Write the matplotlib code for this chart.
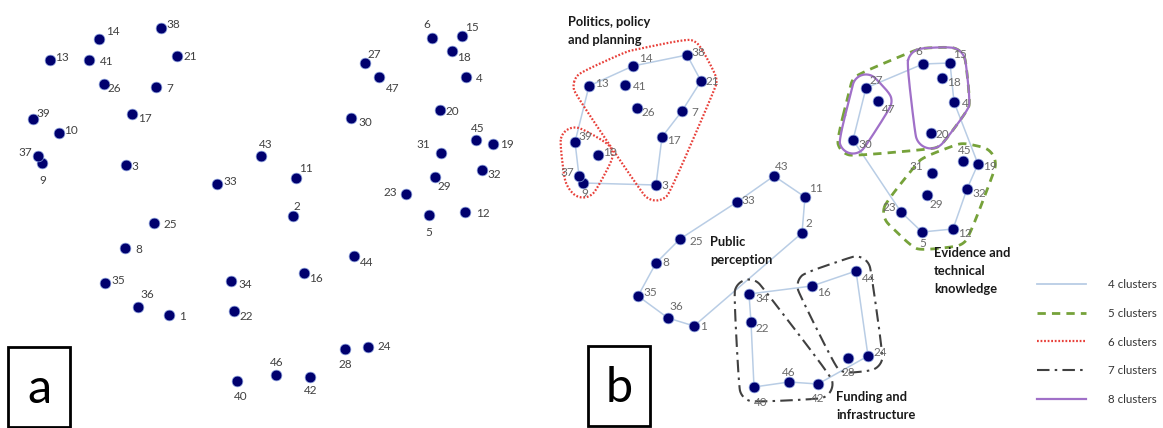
import numpy as np
import matplotlib
matplotlib.use('Agg')
import matplotlib.pyplot as plt
from matplotlib.lines import Line2D
from matplotlib.patches import Rectangle

# node ids 1..47, positions (pixel units, y down)
node_ids = list(range(1, 48))
a_x = [169, 293, 126, 466, 429, 432, 156, 125, 42, 59, 296, 465, 50, 99, 462, 304,
       132, 452, 493, 440, 177, 234, 406, 368, 154, 104, 365, 345, 435, 351, 441, 482,
       217, 231, 105, 138, 38, 161, 33, 237, 89, 310, 261, 354, 476, 276, 379]
a_y = [315, 216, 165, 77, 215, 38, 87, 248, 163, 133, 178, 212, 60, 39, 36, 273,
       114, 51, 144, 110, 56, 311, 194, 347, 223, 84, 63, 349, 177, 118, 153, 170,
       184, 281, 283, 307, 156, 28, 119, 381, 60, 377, 156, 256, 140, 375, 77]
b_x = [694, 802, 656, 954, 922, 923, 682, 656, 583, 598, 805, 953, 589, 633, 950, 812,
       662, 942, 978, 931, 701, 751, 901, 868, 680, 637, 866, 848, 927, 853, 932, 967,
       737, 749, 638, 668, 579, 687, 575, 754, 625, 818, 774, 856, 963, 789, 878]
b_y = [326, 233, 185, 102, 232, 64, 111, 263, 183, 155, 197, 229, 86, 66, 63, 286,
       137, 78, 164, 133, 81, 322, 212, 356, 239, 108, 88, 358, 195, 140, 173, 189,
       202, 294, 296, 318, 176, 55, 142, 387, 85, 384, 176, 271, 161, 382, 101]

# 4-cluster links (rings)
rings_4 = [[13, 14, 38, 21, 7, 17, 3, 9, 37, 39, 13],
           [43, 11, 2, 1, 36, 35, 8, 25, 33, 43],
           [34, 16, 44, 24, 42, 46, 40, 22, 34],
           [6, 15, 4, 19, 32, 12, 5, 23, 30, 27, 6]]
clusters_5 = [[27, 47, 30, 6, 15, 18, 4, 20], [31, 45, 19, 32, 12, 5, 23, 29]]
clusters_6 = [[13, 14, 41, 26, 38, 21, 7, 17, 3], [39, 10, 37, 9]]
clusters_7 = [[34, 22, 40, 46, 42], [16, 44, 24, 28]]
clusters_8 = [[27, 47, 30], [6, 15, 18, 4, 20]]

group_names = ['Politics, policy\nand planning', 'Public\nperception',
               'Evidence and\ntechnical\nknowledge', 'Funding and\ninfrastructure']
legend_labels = ['4 clusters', '5 clusters', '6 clusters', '7 clusters', '8 clusters']

# label offsets (dx, dy, ha) per node
lab_a = {14: (7, -8, 'left'), 38: (5, -4, 'left'), 13: (5, -3, 'left'), 41: (11, 1, 'left'),
         26: (4, 4, 'left'), 7: (10, 1, 'left'), 39: (3, -6, 'left'), 17: (6, 4, 'left'),
         10: (5, -3, 'left'), 37: (-6, -4, 'right'), 9: (1, 17, 'center'), 3: (5, 1, 'left'),
         43: (5, -11, 'center'), 33: (6, -3, 'left'), 11: (3, -10, 'left'), 2: (1, -10, 'left'),
         25: (9, 1, 'left'), 8: (10, 1, 'left'), 35: (6, -3, 'left'), 36: (9, -13, 'center'),
         1: (10, 1, 'left'), 34: (7, 4, 'left'), 22: (5, 5, 'left'), 16: (5, 6, 'left'),
         44: (6, 7, 'left'), 28: (0, 15, 'center'), 24: (10, 0, 'left'), 46: (1, -12, 'center'),
         42: (1, 14, 'center'), 40: (4, 16, 'center'), 6: (-5, -14, 'center'), 15: (3, -9, 'left'),
         18: (5, 6, 'left'), 27: (3, -9, 'left'), 47: (7, 11, 'left'), 4: (10, 1, 'left'),
         20: (6, 1, 'left'), 30: (7, 4, 'left'), 45: (2, -12, 'center'), 19: (7, 1, 'left'),
         31: (-11, -8, 'right'), 32: (5, 4, 'left'), 29: (3, 9, 'left'), 23: (-9, -2, 'right'),
         5: (0, 17, 'center'), 12: (11, 1, 'left'), 21: (6, 0, 'left')}
lab_b = {13: (6, -3, 'left'), 14: (6, -8, 'left'), 41: (8, 1, 'left'), 38: (4, -3, 'left'),
         21: (5, 0, 'left'), 26: (5, 4, 'left'), 7: (9, 1, 'left'), 17: (5, 4, 'left'),
         39: (3, -6, 'left'), 10: (5, -3, 'left'), 37: (-5, -4, 'right'), 9: (2, 10, 'center'),
         3: (5, 0, 'left'), 43: (1, -10, 'left'), 11: (4, -9, 'left'), 33: (4, -2, 'left'),
         2: (3, -10, 'left'), 25: (9, 2, 'left'), 8: (6, 0, 'left'), 35: (5, -3, 'left'),
         36: (1, -12, 'left'), 1: (6, 1, 'left'), 34: (6, 4, 'left'), 22: (5, 6, 'left'),
         16: (5, 7, 'left'), 46: (0, -10, 'center'), 42: (0, 14, 'center'), 40: (0, 15, 'left'),
         44: (6, 7, 'left'), 28: (0, 15, 'center'), 24: (5, -3, 'left'), 6: (-1, -13, 'right'),
         15: (3, -9, 'left'), 18: (5, 4, 'left'), 27: (3, -8, 'left'), 47: (4, 8, 'left'),
         4: (8, 1, 'left'), 20: (5, 1, 'left'), 30: (5, 4, 'left'), 45: (2, -11, 'center'),
         19: (5, 2, 'left'), 31: (-9, -7, 'right'), 32: (5, 4, 'left'), 29: (3, 9, 'left'),
         23: (-5, -5, 'right'), 5: (1, 11, 'center'), 12: (5, 4, 'left')}

plt.rcParams['font.family'] = ['Lato', 'DejaVu Sans']

NODE_C = '#00006e'
LINK_C = '#b9cde5'
styles = {
    5: dict(color='#76a23a', lw=2.0, ls=(0, (3, 2.2))),
    6: dict(color='#e8403a', lw=1.6, ls=(0, (0.8, 0.8))),
    7: dict(color='#404040', lw=1.5, ls=(0, (6, 2.5, 1.2, 2.5))),
    8: dict(color='#a070c8', lw=1.6, ls='-'),
}


def hull(pts):
    pts = sorted(map(tuple, pts))
    def cross(o, a, b):
        return (a[0] - o[0]) * (b[1] - o[1]) - (a[1] - o[1]) * (b[0] - o[0])
    lower, upper = [], []
    for p in pts:
        while len(lower) >= 2 and cross(lower[-2], lower[-1], p) <= 0:
            lower.pop()
        lower.append(p)
    for p in reversed(pts):
        while len(upper) >= 2 and cross(upper[-2], upper[-1], p) <= 0:
            upper.pop()
        upper.append(p)
    return np.array(lower[:-1] + upper[:-1])


def outline(members, xs, ys, pad):
    # rounded hull round the members, softened a bit (Chaikin)
    ang = np.linspace(0, 2 * np.pi, 12, endpoint=False)
    pts = [(xs[m - 1] + pad * np.cos(t), ys[m - 1] + pad * np.sin(t)) for m in members for t in ang]
    p = hull(pts)
    for _ in range(4):
        q = np.roll(p, -1, axis=0)
        p = np.column_stack([0.75 * p + 0.25 * q, 0.25 * p + 0.75 * q]).reshape(-1, 2)
    return np.vstack([p, p[:1]])


fig = plt.figure(figsize=(11.63, 4.28), dpi=100)
ax = fig.add_axes([0, 0, 1, 1])
ax.set_xlim(0, 1163)
ax.set_ylim(428, 0)
ax.axis('off')

# panel a
ax.scatter(a_x, a_y, s=60, color=NODE_C, edgecolors='#8fa5e0', linewidths=0.5, zorder=3)
for n in node_ids:
    dx, dy, ha = lab_a.get(n, (6, 0, 'left'))
    ax.text(a_x[n - 1] + dx, a_y[n - 1] + dy, str(n), ha=ha, va='center',
            fontsize=8.5, color='#404040', zorder=4)

# panel b: links
for ring in rings_4:
    ax.plot([b_x[n - 1] for n in ring], [b_y[n - 1] for n in ring], color=LINK_C, lw=1.1, zorder=1)

pads = {5: [16, 18], 6: [16, 15], 7: [15, 15], 8: [14, 16]}
for k, groups in [(5, clusters_5), (6, clusters_6), (7, clusters_7), (8, clusters_8)]:
    for g, pad in zip(groups, pads[k]):
        o = outline(g, b_x, b_y, pad)
        ax.plot(o[:, 0], o[:, 1], zorder=2, **styles[k])

ax.scatter(b_x, b_y, s=60, color=NODE_C, edgecolors='#8fa5e0', linewidths=0.5, zorder=3)
for n in node_ids:
    dx, dy, ha = lab_b.get(n, (6, 0, 'left'))
    ax.text(b_x[n - 1] + dx, b_y[n - 1] + dy, str(n), ha=ha, va='center',
            fontsize=8.5, color='#6a6a6a', zorder=4)

# group headings
for name, (hx, hy) in zip(group_names, [(568, 31), (710, 251), (934, 271), (836, 406)]):
    ax.text(hx, hy, name, ha='left', va='center', fontsize=9.3, fontweight='bold',
            color='#1a1a1a', linespacing=1.6, zorder=5)

# panel letters
for letter, (rx, ry) in zip(['a', 'b'], [(8, 347), (588, 346)]):
    ax.add_patch(Rectangle((rx, ry), 62, 80, fill=False, lw=2, ec='black', zorder=5))
    ax.text(rx + 31, ry + 42, letter, ha='center', va='center', fontsize=35, color='black')

handles = [Line2D([], [], color=LINK_C, lw=1.3)]
for k in [5, 6, 7, 8]:
    handles.append(Line2D([], [], **styles[k]))
ax.legend(handles, legend_labels, loc='upper left', bbox_to_anchor=(1031, 273),
          bbox_transform=ax.transData, frameon=False, fontsize=8.3, borderpad=0,
          handlelength=4.3, handletextpad=1.9, labelspacing=1.55, labelcolor='#333333')

fig.savefig('out.png', dpi=100)
